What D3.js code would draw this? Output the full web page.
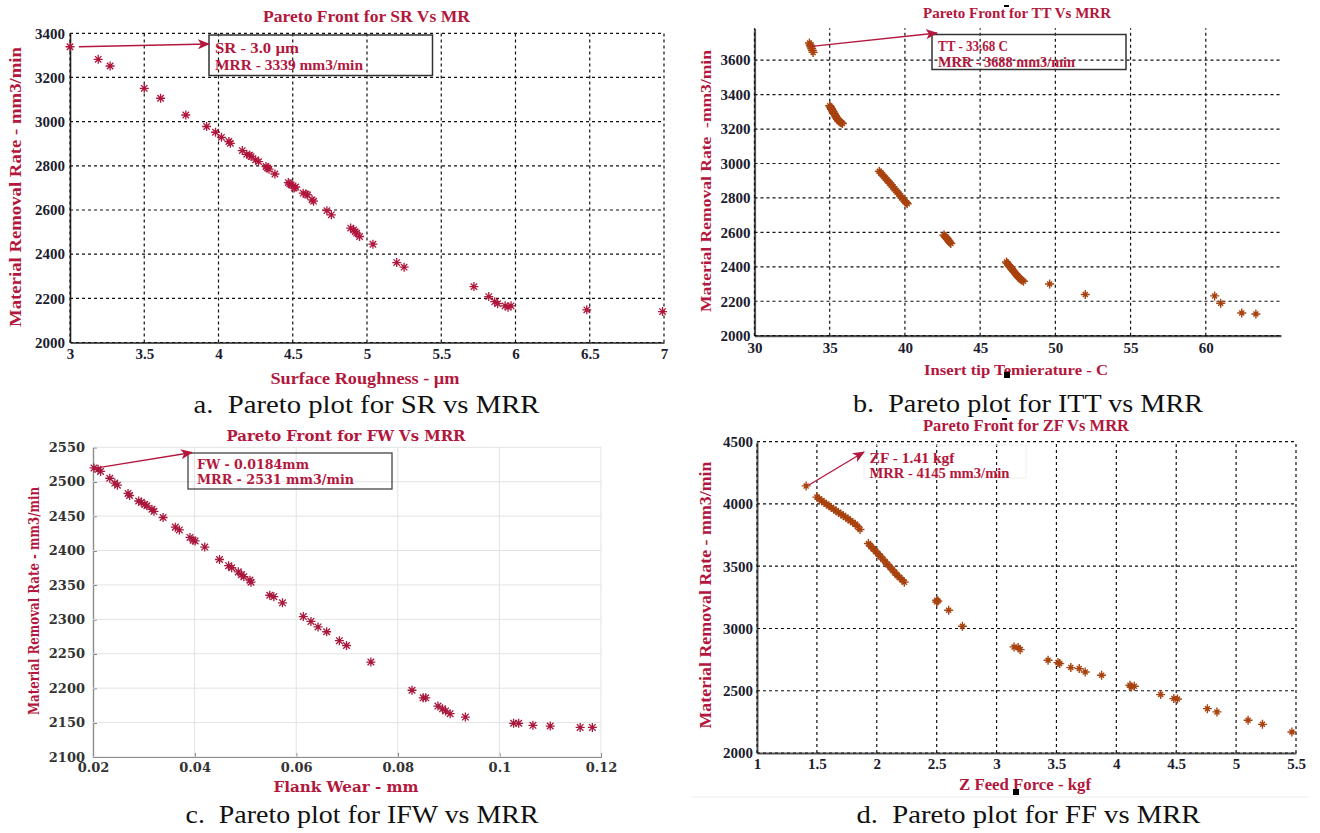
<!DOCTYPE html>
<html>
<head>
<meta charset="utf-8">
<script src="https://cdn.jsdelivr.net/npm/d3@7"></script>
<style>
  body { margin: 0; background: #fff; }
  svg { display: block; }
</style>
</head>
<body>
<script>
// ---------- (a) Surface roughness vs material removal rate ----------
const srA  = [3.0, 3.19, 3.27, 3.5, 3.61, 3.78, 3.92, 3.98, 4.02, 4.07, 4.08, 4.16, 4.19, 4.21, 4.22, 4.25, 4.27,
              4.32, 4.33, 4.34, 4.38, 4.47, 4.48, 4.49, 4.51, 4.52, 4.57, 4.59, 4.6, 4.63, 4.64, 4.73, 4.76,
              4.89, 4.91, 4.92, 4.93, 4.95, 5.04, 5.2, 5.25, 5.72, 5.82, 5.86, 5.88, 5.93, 5.95, 5.97, 6.48, 6.99];
const mrrA = [3339, 3282, 3252, 3151, 3106, 3030, 2978, 2952, 2929, 2910, 2902, 2869, 2852, 2848, 2842, 2827, 2819,
              2797, 2790, 2785, 2763, 2724, 2718, 2714, 2699, 2704, 2676, 2672, 2668, 2646, 2640, 2597, 2578,
              2518, 2510, 2502, 2495, 2480, 2445, 2362, 2341, 2253, 2208, 2185, 2176, 2166, 2160, 2166, 2148, 2140];
const xTicksA = [3, 3.5, 4, 4.5, 5, 5.5, 6, 6.5, 7];
const yTicksA = [2000, 2200, 2400, 2600, 2800, 3000, 3200, 3400];

// ---------- (b) Insert tip temperature vs material removal rate ----------
const ttB  = [33.65, 33.7, 33.75, 33.8, 33.85, 33.9,
              35.0, 35.05, 35.1, 35.12, 35.18, 35.22, 35.28, 35.32, 35.38, 35.42, 35.48, 35.52, 35.58, 35.62, 35.7, 35.78, 35.85,
              38.3, 38.4, 38.5, 38.6, 38.7, 38.8, 38.9, 39.0, 39.1, 39.2, 39.3, 39.4, 39.5, 39.6, 39.7, 39.8, 39.9, 40.0, 40.1, 40.15,
              42.6, 42.65, 42.72, 42.8, 42.85, 42.92, 42.98, 43.05,
              46.75, 46.8, 46.88, 46.95, 47.0, 47.08, 47.15, 47.22, 47.3, 47.38, 47.45, 47.52, 47.6, 47.68, 47.78, 47.88,
              49.62, 51.99, 60.59, 60.99, 62.39, 63.33];
const mrrB = [3700, 3688, 3678, 3668, 3656, 3645,
              3335, 3328, 3320, 3315, 3308, 3300, 3292, 3285, 3278, 3270, 3263, 3257, 3250, 3245, 3240, 3236, 3232,
              2955, 2945, 2935, 2925, 2915, 2905, 2895, 2885, 2875, 2865, 2853, 2843, 2833, 2822, 2812, 2800, 2790, 2780, 2772, 2766,
              2585, 2578, 2572, 2565, 2558, 2550, 2542, 2535,
              2428, 2420, 2412, 2405, 2398, 2390, 2382, 2375, 2366, 2358, 2350, 2342, 2335, 2328, 2322, 2316,
              2300, 2239, 2231, 2188, 2132, 2126];
const xTicksB = [30, 35, 40, 45, 50, 55, 60];
const yTicksB = [2000, 2200, 2400, 2600, 2800, 3000, 3200, 3400, 3600];

// ---------- (c) Flank wear vs material removal rate ----------
const fwC  = [0.0202, 0.021, 0.0215, 0.0233, 0.0243, 0.0248, 0.0269, 0.0272, 0.029, 0.0295, 0.0302, 0.0306, 0.0316, 0.032,
              0.0338, 0.0362, 0.037, 0.0391, 0.0397, 0.0401, 0.042, 0.0449, 0.0467, 0.0473, 0.0486, 0.0492, 0.0497,
              0.0509, 0.0511, 0.0548, 0.0556, 0.0573, 0.0614, 0.0629, 0.0643, 0.066, 0.0685, 0.0699, 0.0747,
              0.0828, 0.085, 0.0855, 0.0879, 0.0888, 0.0894, 0.0903, 0.0933, 0.1028, 0.1038, 0.1066, 0.11, 0.1159, 0.1183];
const mrrC = [2520, 2518, 2515, 2505, 2498, 2495, 2483, 2480, 2472, 2470, 2467, 2465, 2460, 2457,
              2448, 2434, 2430, 2419, 2415, 2414, 2405, 2387, 2378, 2375, 2369, 2365, 2362,
              2357, 2354, 2335, 2333, 2324, 2304, 2297, 2289, 2282, 2269, 2262, 2238,
              2197, 2186, 2186, 2174, 2170, 2167, 2163, 2158, 2149, 2149, 2146, 2145, 2143, 2143];
const xTicksC = [0.02, 0.04, 0.06, 0.08, 0.1, 0.12];
const yTicksC = [2100, 2150, 2200, 2250, 2300, 2350, 2400, 2450, 2500, 2550];

// ---------- (d) Z feed force vs material removal rate ----------
const zfD  = [1.41,
              1.50, 1.52, 1.54, 1.56, 1.58, 1.60, 1.62, 1.64, 1.66, 1.68, 1.70, 1.72, 1.74, 1.76, 1.78, 1.80, 1.82, 1.84, 1.86,
              1.93, 1.95, 1.97, 1.99, 2.01, 2.03, 2.05, 2.07, 2.09, 2.11, 2.13, 2.15, 2.17, 2.19, 2.21, 2.23,
              2.5, 2.5, 2.51, 2.6, 2.715, 3.146, 3.18, 3.197, 3.43, 3.513, 3.527, 3.62, 3.69, 3.74, 3.877,
              4.114, 4.124, 4.15, 4.37, 4.48, 4.51, 4.76, 4.84, 5.1, 5.22, 5.466];
const mrrD = [4145,
              4055, 4040, 4025, 4012, 3998, 3985, 3972, 3958, 3945, 3932, 3920, 3906, 3893, 3880, 3866, 3852, 3838, 3820, 3795,
              3683, 3660, 3640, 3620, 3600, 3578, 3557, 3535, 3515, 3494, 3472, 3450, 3428, 3410, 3392, 3372,
              3227, 3212, 3220, 3147, 3018, 2852, 2847, 2830, 2745, 2726, 2718, 2686, 2678, 2651, 2624,
              2544, 2530, 2536, 2469, 2437, 2434, 2356, 2330, 2263, 2230, 2169];
const xTicksD = [1, 1.5, 2, 2.5, 3, 3.5, 4, 4.5, 5, 5.5];
const yTicksD = [2000, 2500, 3000, 3500, 4000, 4500];

const CRIMSON = "#b3173d";
const SERIF = "'Liberation Serif', 'DejaVu Serif', serif";

const svg = d3.select("body").append("svg")
  .attr("width", 1320).attr("height", 833)
  .style("font-family", SERIF);

svg.append("defs").append("marker")
  .attr("id", "arrowHead")
  .attr("viewBox", "0 0 12 10")
  .attr("refX", 11).attr("refY", 5)
  .attr("markerWidth", 12).attr("markerHeight", 10)
  .attr("markerUnits", "userSpaceOnUse")
  .attr("orient", "auto")
  .append("path")
  .attr("d", "M0,0 L12,5 L0,10 L3,5 Z")
  .attr("fill", CRIMSON);

// asterisk marker path centred on (cx, cy)
function starPath(cx, cy, r, rd) {
  return `M${cx - r},${cy}L${cx + r},${cy}M${cx},${cy - r}L${cx},${cy + r}` +
         `M${cx - rd},${cy - rd}L${cx + rd},${cy + rd}M${cx - rd},${cy + rd}L${cx + rd},${cy - rd}`;
}

function drawPanel(p) {
  const g = svg.append("g");
  const x = d3.scaleLinear().domain(p.xDomain).range(p.xRange);
  const y = d3.scaleLinear().domain(p.yDomain).range(p.yRange);
  const [x0, x1] = p.xRange, [y0, y1] = p.yRange;

  // axes
  const xa = g.append("g").attr("transform", `translate(0,${y0})`)
    .call(d3.axisBottom(x).tickValues(p.xTicks).tickFormat(d3.format("~g"))
      .tickSizeInner(p.tickLen).tickSizeOuter(0).tickPadding(p.xPad));
  const ya = g.append("g").attr("transform", `translate(${x0},0)`)
    .call(d3.axisLeft(y).tickValues(p.yTicks).tickFormat(d3.format("d"))
      .tickSizeInner(p.tickLen).tickSizeOuter(0).tickPadding(p.yPad));
  [xa, ya].forEach(a => {
    a.select(".domain").attr("stroke", p.axisColor).attr("stroke-width", p.axisWidth);
    a.selectAll(".tick line").attr("stroke", p.axisColor);
    a.selectAll("text")
      .attr("font-family", p.tickFont).attr("font-weight", "bold")
      .attr("font-size", p.tickSize).attr("fill", p.tickColor);
  });

  // grid
  const grid = g.append("g")
    .attr("stroke", p.gridColor).attr("stroke-width", p.gridWidth)
    .attr("stroke-dasharray", p.gridDash);
  grid.selectAll("line.v").data(p.xTicks).join("line").attr("class", "v")
    .attr("x1", d => x(d)).attr("x2", d => x(d)).attr("y1", y0).attr("y2", y1);
  grid.selectAll("line.h").data(p.yTicks).join("line").attr("class", "h")
    .attr("x1", x0).attr("x2", x1).attr("y1", d => y(d)).attr("y2", d => y(d));

  // markers
  g.append("g").selectAll("path").data(p.xs.map((v, i) => [v, p.ys[i]])).join("path")
    .attr("d", d => starPath(x(d[0]), y(d[1]), p.mr, p.md))
    .attr("stroke", p.markColor).attr("stroke-width", p.markWidth).attr("fill", "none");

  // title, axis titles, caption
  const txt = (t, tx, ty, o) => {
    const e = g.append("text").attr("x", tx).attr("y", ty).text(t)
      .attr("text-anchor", o.anchor || "middle")
      .attr("font-family", o.font || SERIF)
      .attr("font-weight", o.weight || "bold")
      .attr("font-size", o.size).attr("fill", o.fill || CRIMSON)
      .style("white-space", "pre");
    if (o.len) e.attr("textLength", o.len).attr("lengthAdjust", "spacingAndGlyphs");
    if (o.rot) e.attr("transform", `rotate(-90,${tx},${ty})`);
    return e;
  };
  txt(p.title, p.titlePos[0], p.titlePos[1], { size: p.titleSize, len: p.titleLen, font: p.labelFont });
  txt(p.xTitle, p.xTitlePos[0], p.xTitlePos[1], { size: p.titleSize, len: p.xTitleLen, font: p.labelFont });
  txt(p.yTitle, p.yTitlePos[0], p.yTitlePos[1], { size: p.titleSize, len: p.yTitleLen, rot: true, font: p.labelFont });
  txt(p.caption, p.capPos[0], p.capPos[1], { size: 25, len: p.capLen, weight: "normal", fill: "#111" });

  // annotation: box, arrow and text
  const an = p.note;
  if (an.box) {
    g.append("rect").attr("x", an.box[0]).attr("y", an.box[1])
      .attr("width", an.box[2] - an.box[0]).attr("height", an.box[3] - an.box[1])
      .attr("fill", "none").attr("stroke", an.boxColor).attr("stroke-width", an.boxWidth);
  }
  g.append("line")
    .attr("x1", x(an.from[0])).attr("y1", y(an.from[1]))
    .attr("x2", an.to[0]).attr("y2", an.to[1])
    .attr("stroke", CRIMSON).attr("stroke-width", 1.3)
    .attr("marker-end", "url(#arrowHead)");
  an.lines.forEach((t, i) => {
    txt(t, an.textX, an.textY[i], { size: an.size, anchor: "start", len: an.lens[i], font: p.labelFont });
  });
}

// (a)
drawPanel({
  xs: srA, ys: mrrA, xDomain: [3, 7], yDomain: [2000, 3400],
  xRange: [70, 664], yRange: [342.5, 33.3], xTicks: xTicksA, yTicks: yTicksA,
  tickLen: 0, xPad: 6, yPad: 5, axisColor: "#222", axisWidth: 1.6,
  tickFont: SERIF, tickSize: 15, tickColor: "#1c1c30",
  gridColor: "#111", gridWidth: 1.2, gridDash: "3,3",
  markColor: "#b0163c", markWidth: 1.3, mr: 4.5, md: 3.2,
  labelFont: SERIF, titleSize: 16,
  title: "Pareto Front for SR Vs MR", titlePos: [366.5, 22], titleLen: 207,
  xTitle: "Surface Roughness - \u00b5m", xTitlePos: [365, 384], xTitleLen: 189,
  yTitle: "Material Removal Rate - mm3/min", yTitlePos: [21, 187], yTitleLen: 280,
  caption: "a.  Pareto plot for SR vs MRR", capPos: [366.5, 413], capLen: 346,
  note: {
    box: [209, 35, 432.5, 75.5], boxColor: "#333", boxWidth: 1.5,
    from: [3.06, 3339], to: [209, 44],
    lines: ["SR - 3.0 \u00b5m", "MRR - 3339 mm3/min"], textX: 215, textY: [53, 69.5],
    size: 15, lens: [84, 148]
  }
});

// (b)
drawPanel({
  xs: ttB, ys: mrrB, xDomain: [30, 65], yDomain: [2000, 3785],
  xRange: [754.5, 1281], yRange: [335.7, 28.3], xTicks: xTicksB, yTicks: yTicksB,
  tickLen: 0, xPad: 7, yPad: 4, axisColor: "#555", axisWidth: 2.2,
  tickFont: SERIF, tickSize: 15, tickColor: "#1c1c30",
  gridColor: "#111", gridWidth: 1.2, gridDash: "3,3",
  markColor: "#a8420e", markWidth: 1.4, mr: 4.5, md: 2.5,
  labelFont: SERIF, titleSize: 15,
  title: "Pareto Front for TT Vs MRR", titlePos: [1017, 18], titleLen: 188,
  xTitle: "Insert tip Temierature - C", xTitlePos: [1016, 375], xTitleLen: 184,
  yTitle: "Material Removal Rate  -mm3/min", yTitlePos: [711, 181], yTitleLen: 262,
  caption: "b.  Pareto plot for ITT vs MRR", capPos: [1028, 412], capLen: 350,
  note: {
    box: [932, 34.5, 1126, 69.5], boxColor: "#333", boxWidth: 1.5,
    from: [33.8, 3680], to: [937, 33],
    lines: ["TT - 33.68 C", "MRR - 3688 mm3/min"], textX: 938, textY: [51, 66.5],
    size: 14, lens: [70, 137]
  }
});

// (c)
drawPanel({
  xs: fwC, ys: mrrC, xDomain: [0.02, 0.12], yDomain: [2100, 2550],
  xRange: [93, 601], yRange: [757, 447.3], xTicks: xTicksC, yTicks: yTicksC,
  tickLen: -4, xPad: 6, yPad: 8, axisColor: "#333", axisWidth: 1.2,
  tickFont: "'DejaVu Serif', serif", tickSize: 13, tickColor: "#333",
  gridColor: "#e3e3e3", gridWidth: 1, gridDash: null,
  markColor: "#a8173c", markWidth: 1.3, mr: 4.5, md: 3.3,
  labelFont: "'DejaVu Serif', serif", titleSize: 15,
  title: "Pareto Front for FW Vs MRR", titlePos: [346, 440.5], titleLen: 239,
  xTitle: "Flank Wear - mm", xTitlePos: [346, 792], xTitleLen: 145,
  yTitle: "Material Removal Rate - mm3/min", yTitlePos: [39, 601], yTitleLen: 228,
  caption: "c.  Pareto plot for IFW vs MRR", capPos: [362, 823], capLen: 353,
  note: {
    box: [188, 453, 392, 489], boxColor: "#444", boxWidth: 1.3,
    from: [0.0208, 2520], to: [192, 452.5],
    lines: ["FW - 0.0184mm", "MRR - 2531 mm3/min"], textX: 197, textY: [469, 484],
    size: 12, lens: [112, 157]
  }
});

// (d)
drawPanel({
  xs: zfD, ys: mrrD, xDomain: [1, 5.5], yDomain: [2000, 4500],
  xRange: [757, 1296], yRange: [753, 441.7], xTicks: xTicksD, yTicks: yTicksD,
  tickLen: 0, xPad: 5, yPad: 4, axisColor: "#555", axisWidth: 2,
  tickFont: SERIF, tickSize: 15, tickColor: "#1c1c30",
  gridColor: "#111", gridWidth: 1.2, gridDash: "3,3",
  markColor: "#a8420e", markWidth: 1.4, mr: 4.5, md: 2.5,
  labelFont: SERIF, titleSize: 16,
  title: "Pareto Front for ZF Vs MRR", titlePos: [1026, 430.5], titleLen: 206,
  xTitle: "Z Feed Force - kgf", xTitlePos: [1025, 790], xTitleLen: 132,
  yTitle: "Material Removal Rate - mm3/min", yTitlePos: [711, 595], yTitleLen: 267,
  caption: "d.  Pareto plot for FF vs MRR", capPos: [1028.5, 823], capLen: 344,
  note: {
    box: [864, 445, 1026, 478], boxColor: "#f0f0f0", boxWidth: 1,
    from: [1.43, 4150], to: [864, 452],
    lines: ["ZF - 1.41 kgf", "MRR - 4145 mm3/min"], textX: 869.5, textY: [462.5, 478],
    size: 14, lens: [85, 140]
  }
});

// small dark marks and separator line present in the figure
const marks = [[1004, 372, 6, 6], [1004, 5, 5, 2], [1013, 789, 6, 6], [1002, 418, 5, 2]];
svg.append("g").selectAll("rect").data(marks).join("rect")
  .attr("x", d => d[0]).attr("y", d => d[1]).attr("width", d => d[2]).attr("height", d => d[3])
  .attr("fill", "#000");
svg.append("line").attr("x1", 692).attr("x2", 1308).attr("y1", 797).attr("y2", 797)
  .attr("stroke", "#ececec").attr("stroke-width", 1);
</script>
</body>
</html>
